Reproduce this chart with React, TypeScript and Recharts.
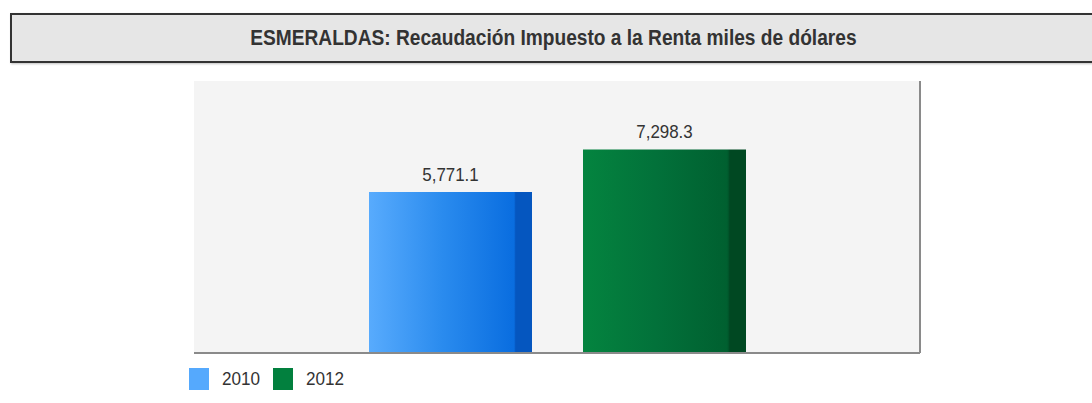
import { Bar, BarChart, CartesianGrid, LabelList, XAxis, YAxis } from "recharts"

// Source values (miles de dólares)
const categories = ["ESMERALDAS"]
const years = ["2010", "2012"]
const values = [5771.1, 7298.3]
const yMax = 9750

const swatches = ["#55a9fd", "#02803e"]
const gradients = [
  { id: "g2010", stops: ["#58abfd", "#2a8bee", "#0a6ee0", "#0a6ee0", "#0556bf"] },
  { id: "g2012", stops: ["#04843f", "#02713a", "#006030", "#005a2d", "#004822"] },
]

const data = categories.map((name) => {
  const row: Record<string, string | number> = { name }
  years.forEach((y, i) => {
    row[y] = values[i]
  })
  return row
})

const font = '"Liberation Sans", Arial, sans-serif'

const fmt = (v: any) =>
  Number(v).toLocaleString("en-US", { minimumFractionDigits: 1, maximumFractionDigits: 1 })

// slightly narrow label on top of each bar
const TopLabel = (props: any) => {
  const { x, y, width, value } = props
  const cx = x + width / 2
  const ty = y - 11
  return (
    <text
      transform={`translate(${cx},${ty}) scale(0.94,1)`}
      textAnchor="middle"
      fontFamily={font}
      fontSize={18}
      fill="#333"
    >
      {fmt(value)}
    </text>
  )
}

export default function App() {
  return (
    <div style={{ position: "absolute", left: 0, top: 0, width: 1092, height: 403, background: "#fff", overflow: "hidden" }}>
      <div
        style={{
          position: "absolute",
          left: 10,
          top: 13,
          width: 1090,
          height: 46,
          background: "#e6e6e6",
          border: "2px solid #333",
          boxShadow: "1px 1px 2px rgba(0,0,0,0.25)",
          display: "flex",
          alignItems: "center",
          justifyContent: "center",
          fontFamily: font,
          fontWeight: "bold",
          fontSize: 22,
          color: "#333",
        }}
      >
        <span style={{ display: "inline-block", transform: "scaleX(0.87)", marginLeft: -8, whiteSpace: "nowrap" }}>
          ESMERALDAS: Recaudación Impuesto a la Renta miles de dólares
        </span>
      </div>
      <div style={{ position: "absolute", left: 0, top: 0 }}>
        <BarChart
          width={1092}
          height={403}
          data={data}
          margin={{ top: 81, right: 171, left: 194, bottom: 49 }}
          barSize={163}
          barGap={51}
        >
          <defs>
            {gradients.map((g) => (
              <linearGradient key={g.id} id={g.id} x1="0" y1="0" x2="1" y2="0">
                <stop offset="0%" stopColor={g.stops[0]} />
                <stop offset="45%" stopColor={g.stops[1]} />
                <stop offset="88%" stopColor={g.stops[2]} />
                <stop offset="89%" stopColor={g.stops[3]} />
                <stop offset="90%" stopColor={g.stops[4]} />
                <stop offset="100%" stopColor={g.stops[4]} />
              </linearGradient>
            ))}
          </defs>
          <CartesianGrid fill="#f4f4f4" horizontal={false} vertical={false} />
          <XAxis
            dataKey="name"
            height={1}
            tick={false}
            tickLine={false}
            axisLine={{ stroke: "#8a8a8a", strokeWidth: 2 }}
          />
          <YAxis
            orientation="right"
            width={1}
            domain={[0, yMax]}
            tick={false}
            tickLine={false}
            axisLine={{ stroke: "#8a8a8a", strokeWidth: 2 }}
          />
          {years.map((y, i) => (
            <Bar
              key={y}
              dataKey={y}
              name={y}
              fill={`url(#${gradients[i].id})`}
              isAnimationActive={false}
            >
              <LabelList dataKey={y} content={<TopLabel />} />
            </Bar>
          ))}
        </BarChart>
      </div>
      <div
        style={{
          position: "absolute",
          left: 189,
          top: 368,
          display: "flex",
          alignItems: "center",
          fontFamily: font,
          fontSize: 18,
          color: "#333",
        }}
      >
        {years.map((y, i) => (
          <div key={y} style={{ display: "flex", alignItems: "center", width: 84 }}>
            <div style={{ width: 20, height: 22, background: swatches[i], marginRight: 13 }} />
            <span style={{ display: "inline-block", transform: "scaleX(0.95)", transformOrigin: "left center" }}>{y}</span>
          </div>
        ))}
      </div>
    </div>
  )
}
